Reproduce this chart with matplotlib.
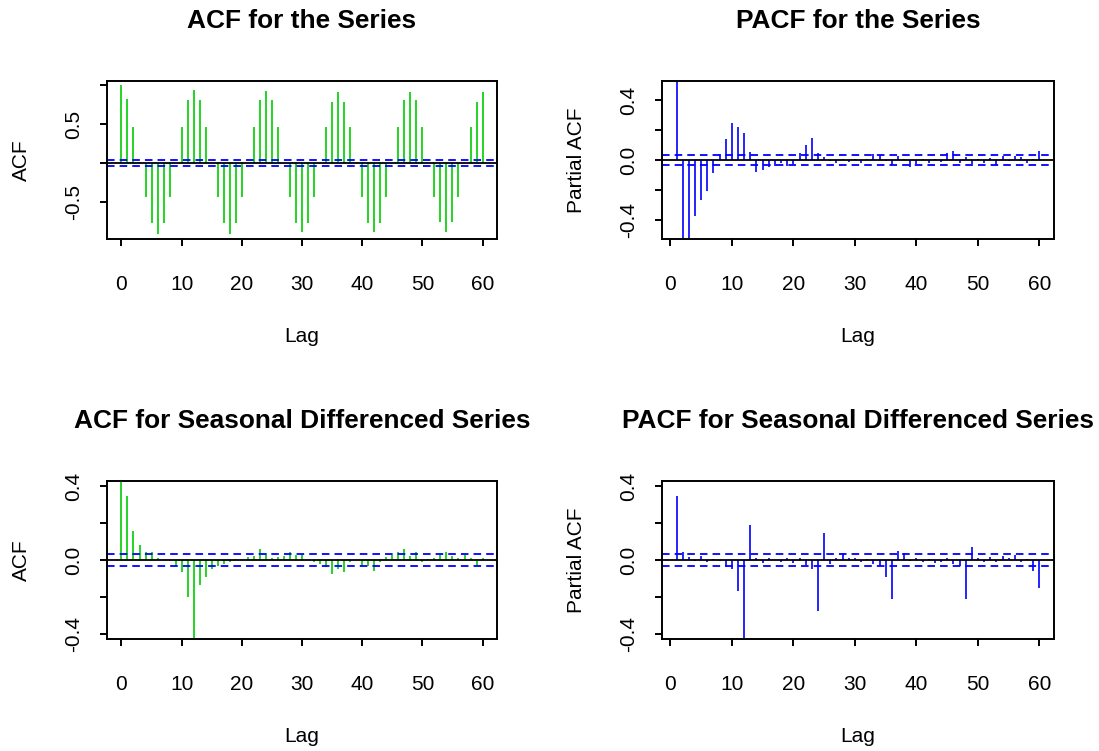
import numpy as np
import matplotlib
matplotlib.use("Agg")
import matplotlib.pyplot as plt
from matplotlib.ticker import FixedLocator, FixedFormatter

plt.rcParams['font.family'] = ['Liberation Sans', 'DejaVu Sans']

# ---------------- data ----------------
acf_lags = list(range(0, 61))
pacf_lags = list(range(1, 61))

acf_series = [1.0, 0.83, 0.47, 0.01, -0.44, -0.78,
              -0.91, -0.78, -0.44, 0.0, 0.47, 0.81,
              0.94, 0.81, 0.47, 0.0, -0.44, -0.78,
              -0.91, -0.78, -0.44, 0.0, 0.47, 0.81,
              0.93, 0.81, 0.47, 0.0, -0.44, -0.78,
              -0.89, -0.78, -0.44, 0.0, 0.47, 0.79,
              0.92, 0.79, 0.47, 0.0, -0.44, -0.78,
              -0.89, -0.78, -0.44, 0.0, 0.47, 0.81,
              0.92, 0.81, 0.47, 0.0, -0.44, -0.76,
              -0.89, -0.76, -0.44, 0.0, 0.46, 0.79,
              0.92]

pacf_series = [0.83, -0.75, -0.6, -0.376, -0.27, -0.21,
               -0.09, 0.037, 0.143, 0.248, 0.22, 0.183,
               0.055, -0.08, -0.07, -0.05, -0.04, -0.02,
               -0.04, -0.03, 0.05, 0.1, 0.148, 0.05,
               0.02, -0.01, -0.02, 0.01, -0.015, 0.01,
               -0.02, 0.005, 0.04, 0.035, -0.01, -0.035,
               0.03, 0.01, -0.045, -0.03, 0.01, -0.02,
               0.005, -0.015, 0.045, 0.06, -0.02, 0.02,
               -0.03, 0.01, -0.02, 0.015, -0.035, 0.03,
               -0.01, 0.03, 0.02, -0.02, 0.01, 0.06]

acf_sdiff = [1.0, 0.344, 0.157, 0.08, 0.046, 0.046,
             0.01, 0.0, -0.005, -0.034, -0.066, -0.2,
             -0.45, -0.135, -0.09, -0.05, -0.03, -0.02,
             -0.01, 0.005, 0.0, 0.015, 0.02, 0.062,
             0.037, 0.01, 0.015, 0.02, 0.045, 0.03,
             0.03, 0.0, -0.012, -0.02, -0.035, -0.075,
             -0.045, -0.066, -0.01, 0.0, -0.03, -0.03,
             -0.057, -0.012, 0.018, 0.027, 0.045, 0.062,
             0.02, 0.045, -0.012, 0.005, 0.01, 0.03,
             0.045, 0.02, 0.01, 0.03, 0.01, -0.03,
             0.01]

pacf_sdiff = [0.344, 0.046, 0.015, -0.007, 0.02, -0.01,
              0.005, -0.005, -0.036, -0.05, -0.168, -0.45,
              0.19, 0.01, -0.015, 0.01, 0.0, -0.01,
              0.01, -0.015, 0.01, -0.025, -0.048, -0.275,
              0.144, -0.02, 0.01, 0.04, 0.01, 0.01,
              -0.01, 0.005, -0.02, -0.03, -0.093, -0.21,
              0.05, 0.04, -0.005, 0.01, -0.01, 0.005,
              -0.015, -0.01, 0.01, -0.02, -0.03, -0.21,
              0.073, 0.01, -0.01, 0.015, -0.01, 0.02,
              0.01, 0.03, -0.01, 0.005, -0.057, -0.15]

conf_limit = 0.034

titles = ["ACF for the Series", "PACF for the Series",
          "ACF for Seasonal Differenced Series", "PACF for Seasonal Differenced Series"]
ylabels = ["ACF", "Partial ACF", "ACF", "Partial ACF"]
xticks = [0, 10, 20, 30, 40, 50, 60]

# ---------------- figure ----------------
W, H = 1099, 751
fig = plt.figure(figsize=(W / 100, H / 100), dpi=100)

def px_axes(x0, y0, x1, y1):
    return fig.add_axes([x0 / W, 1 - y1 / H, (x1 - x0) / W, (y1 - y0) / H])

panels = [
    dict(box=(107, 81, 497, 239), lags=acf_lags, vals=acf_series, color='#00CD00',
         xlim=(-2.4, 62.4), ylim=(-0.98, 1.057),
         yt=[-0.5, 0.0, 0.5, 1.0], ytl=['-0.5', '', '0.5', '']),
    dict(box=(662, 81, 1054, 239), lags=pacf_lags, vals=pacf_series, color='#0000FF',
         xlim=(-1.36, 62.36), ylim=(-0.53, 0.53),
         yt=[-0.4, -0.2, 0.0, 0.2, 0.4], ytl=['-0.4', '', '0.0', '', '0.4']),
    dict(box=(107, 481, 497, 639), lags=acf_lags, vals=acf_sdiff, color='#00CD00',
         xlim=(-2.4, 62.4), ylim=(-0.425, 0.427),
         yt=[-0.4, -0.2, 0.0, 0.2, 0.4], ytl=['-0.4', '', '0.0', '', '0.4']),
    dict(box=(662, 481, 1054, 639), lags=pacf_lags, vals=pacf_sdiff, color='#0000FF',
         xlim=(-1.36, 62.36), ylim=(-0.425, 0.427),
         yt=[-0.4, -0.2, 0.0, 0.2, 0.4], ytl=['-0.4', '', '0.0', '', '0.4']),
]

for i, p in enumerate(panels):
    x0, y0, x1, y1 = p['box']
    ax = px_axes(x0, y0, x1, y1)
    ax.vlines(p['lags'], 0, p['vals'], colors=p['color'], linewidth=1.2)
    ax.axhline(0, color='black', linewidth=1.3)
    for s in (conf_limit, -conf_limit):
        ax.axhline(s, color='#0000FF', linewidth=1.3, linestyle=(0, (4.2, 2.8)))
    ax.set_xlim(*p['xlim'])
    ax.set_ylim(*p['ylim'])
    ax.xaxis.set_major_locator(FixedLocator(xticks))
    ax.set_xticklabels([str(t) for t in xticks])
    ax.yaxis.set_major_locator(FixedLocator(p['yt']))
    ax.yaxis.set_major_formatter(FixedFormatter(p['ytl']))
    for sp in ax.spines.values():
        sp.set_linewidth(1.4)
    ax.tick_params(axis='both', length=5, width=1.4, labelsize=15, direction='out')
    ax.tick_params(axis='x', pad=21)
    ax.tick_params(axis='y', pad=12)
    for lab in ax.get_yticklabels():
        lab.set_rotation(90)
        lab.set_va('center')
    cx = (x0 + x1) / 2
    cy = (y0 + y1) / 2
    fig.text(cx / W, 1 - (y0 - 60) / H, titles[i], ha='center', va='center',
             fontsize=18.9, fontweight='bold')
    fig.text(cx / W, 1 - (y1 + 98) / H, "Lag", ha='center', va='center', fontsize=15)
    fig.text((x0 - 86) / W, 1 - cy / H, ylabels[i], ha='center', va='center',
             rotation=90, fontsize=15)

fig.savefig("out.png", dpi=100, facecolor='white')
